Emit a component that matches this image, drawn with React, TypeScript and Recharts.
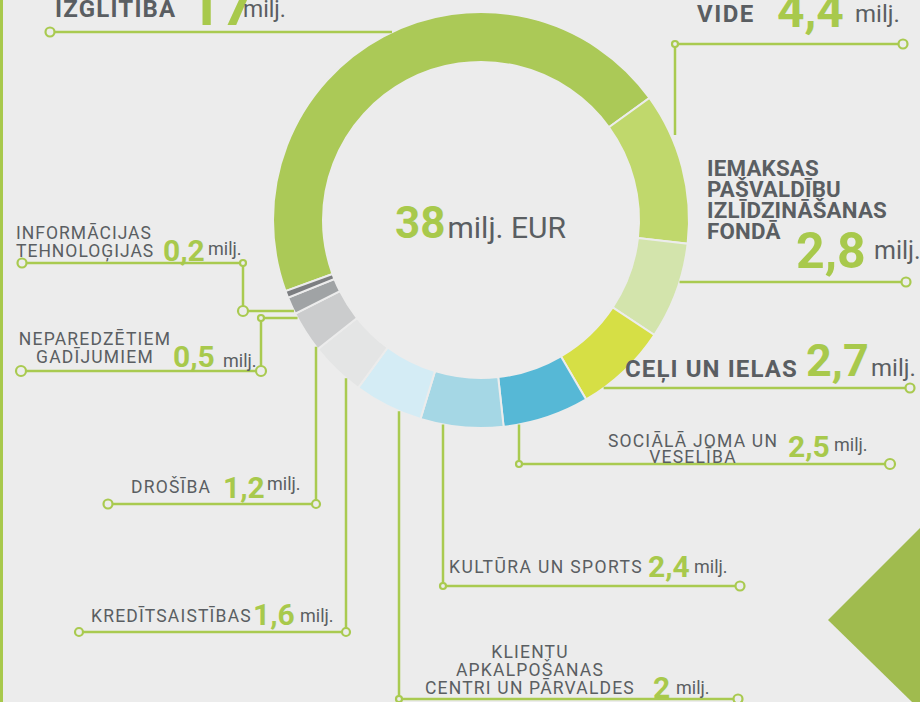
import React from 'react';
import { PieChart, Pie, Cell } from 'recharts';

const CATEGORIES = [
  'IZGLĪTĪBA',
  'VIDE',
  'IEMAKSAS PAŠVALDĪBU IZLĪDZINĀŠANAS FONDĀ',
  'CEĻI UN IELAS',
  'SOCIĀLĀ JOMA UN VESELĪBA',
  'KULTŪRA UN SPORTS',
  'KLIENTU APKALPOŠANAS CENTRI UN PĀRVALDES',
  'KREDĪTSAISTĪBAS',
  'DROŠĪBA',
  'NEPAREDZĒTIEM GADĪJUMIEM',
  'INFORMĀCIJAS TEHNOLOĢIJAS',
];
const VALUES = [17, 4.4, 2.8, 2.7, 2.5, 2.4, 2, 1.6, 1.2, 0.5, 0.2];
const UNIT = 'milj.';
const TOTAL_TEXT = '38';
const TOTAL_UNIT = 'milj. EUR';

const COLORS = [
  '#abc957', '#c0d86c', '#d3e4ac', '#d6df45', '#56b8d6', '#a5d7e5',
  '#d4ecf5', '#e4e5e5', '#cbcccd', '#a0a3a5', '#7c7e81',
];

const BG = '#ececec';
const GREEN = '#a8c94c';
const LINE = '#a9ca50';
const TEXT = '#5a5e62';
const FONT = 'Roboto, "Noto Sans", sans-serif';

// label layout: where each leader line leaves the ring, its bends, and text spots
type Txt = { t: string; x: number; y: number; anchor?: 'start' | 'middle' | 'end' };
type Lay = {
  ring: { axis: 'x' | 'y'; at: number; side: 1 | -1; gap?: number };
  path: [number, number][];
  dots: [number, number][]; // [point index, radius]
  lines: Txt[];
  bold?: boolean;
  size: number;
  ls: number;
  value: { x: number; y: number; size: number };
  unit: { x: number; y: number; size: number };
};

const LAYOUT: Lay[] = [
  {
    ring: { axis: 'y', at: 32, side: -1 }, path: [[50, 32]], dots: [[1, 4.5]],
    lines: [{ t: 'IZGLĪTĪBA', x: 55, y: 17 }], bold: true, size: 24, ls: 1.2,
    value: { x: 188, y: 25, size: 58 }, unit: { x: 243, y: 17, size: 23 },
  },
  {
    ring: { axis: 'x', at: 675, side: -1, gap: 10 }, path: [[675, 44], [903, 44]], dots: [[1, 3], [2, 4.5]],
    lines: [{ t: 'VIDE', x: 697, y: 22 }], bold: true, size: 24, ls: 1.5,
    value: { x: 777, y: 27, size: 48 }, unit: { x: 855, y: 22, size: 24 },
  },
  {
    ring: { axis: 'y', at: 282, side: 1 }, path: [[906, 282]], dots: [[1, 4.5]],
    lines: [
      { t: 'IEMAKSAS', x: 707, y: 176 },
      { t: 'PAŠVALDĪBU', x: 707, y: 197 },
      { t: 'IZLĪDZINĀŠANAS', x: 707, y: 218 },
      { t: 'FONDĀ', x: 707, y: 239 },
    ], bold: true, size: 22.3, ls: 0.2,
    value: { x: 796, y: 268, size: 50 }, unit: { x: 874, y: 259, size: 25 },
  },
  {
    ring: { axis: 'y', at: 388, side: 1 }, path: [[910, 388]], dots: [[1, 4.5]],
    lines: [{ t: 'CEĻI UN IELAS', x: 625, y: 377 }], bold: true, size: 24, ls: 1.1,
    value: { x: 806, y: 376, size: 45 }, unit: { x: 871, y: 376, size: 24 },
  },
  {
    ring: { axis: 'x', at: 519, side: 1 }, path: [[519, 464], [890, 464]], dots: [[1, 3], [2, 5]],
    lines: [
      { t: 'SOCIĀLĀ JOMA UN', x: 693, y: 447, anchor: 'middle' },
      { t: 'VESELĪBA', x: 693, y: 463, anchor: 'middle' },
    ], size: 17.5, ls: 1.2,
    value: { x: 788, y: 457, size: 30 }, unit: { x: 834, y: 451, size: 18 },
  },
  {
    ring: { axis: 'x', at: 443, side: 1 }, path: [[443, 586], [740, 586]], dots: [[1, 3], [2, 4.5]],
    lines: [{ t: 'KULTŪRA UN SPORTS', x: 449, y: 573 }], size: 17.5, ls: 1.4,
    value: { x: 648, y: 577, size: 30 }, unit: { x: 694, y: 573, size: 18 },
  },
  {
    ring: { axis: 'x', at: 399, side: 1 }, path: [[399, 699], [738, 699]], dots: [[1, 3], [2, 4.5]],
    lines: [
      { t: 'KLIENTU', x: 530, y: 658, anchor: 'middle' },
      { t: 'APKALPOŠANAS', x: 530, y: 676, anchor: 'middle' },
      { t: 'CENTRI UN PĀRVALDES', x: 530, y: 694, anchor: 'middle' },
    ], size: 17.5, ls: 1.2,
    value: { x: 653, y: 698, size: 30 }, unit: { x: 676, y: 694, size: 18 },
  },
  {
    ring: { axis: 'x', at: 346, side: 1 }, path: [[346, 632], [79, 632]], dots: [[1, 4], [2, 4]],
    lines: [{ t: 'KREDĪTSAISTĪBAS', x: 91, y: 622 }], size: 17.5, ls: 1.2,
    value: { x: 253, y: 625, size: 30 }, unit: { x: 300, y: 622, size: 18 },
  },
  {
    ring: { axis: 'x', at: 316, side: 1 }, path: [[316, 504], [108, 504]], dots: [[1, 4], [2, 4.5]],
    lines: [{ t: 'DROŠĪBA', x: 131, y: 493 }], size: 17.5, ls: 1.2,
    value: { x: 223, y: 498, size: 30 }, unit: { x: 267, y: 490, size: 18 },
  },
  {
    ring: { axis: 'y', at: 318, side: -1 }, path: [[261, 318], [261, 371], [21, 371]], dots: [[1, 3], [2, 5], [3, 5]],
    lines: [
      { t: 'NEPAREDZĒTIEM', x: 95, y: 345, anchor: 'middle' },
      { t: 'GADĪJUMIEM', x: 95, y: 363, anchor: 'middle' },
    ], size: 17.5, ls: 1.2,
    value: { x: 173, y: 367, size: 30 }, unit: { x: 223, y: 367, size: 18 },
  },
  {
    ring: { axis: 'y', at: 311, side: -1 }, path: [[243, 311], [243, 263], [22, 263]], dots: [[1, 5], [2, 3], [3, 4.5]],
    lines: [
      { t: 'INFORMĀCIJAS', x: 16, y: 239 },
      { t: 'TEHNOLOĢIJAS', x: 16, y: 257 },
    ], size: 17.5, ls: 1.0,
    value: { x: 163, y: 261, size: 30 }, unit: { x: 208, y: 255, size: 18 },
  },
];

const data = CATEGORIES.map((name, i) => ({ name, value: VALUES[i] }));

// point where a horizontal / vertical leader meets the outer edge of the ring
const ringPoint = (cx: number, cy: number, r: number, ring: Lay['ring']): [number, number] => {
  const gap = ring.gap || 0;
  if (ring.axis === 'y') {
    const dx = Math.sqrt(Math.max(0, r * r - (ring.at - cy) ** 2));
    return [cx + ring.side * (dx + gap), ring.at];
  }
  const dy = Math.sqrt(Math.max(0, r * r - (ring.at - cx) ** 2));
  return [ring.at, cy + ring.side * (dy + gap)];
};

const renderLabel = (props: any) => {
  const { cx, cy, outerRadius, index } = props;
  const lay = LAYOUT[index];
  if (!lay) return null;
  const pts = [ringPoint(cx, cy, outerRadius, lay.ring), ...lay.path];
  return (
    <g key={`lbl-${index}`} fontFamily={FONT}>
      <polyline
        points={pts.map((p) => p.join(',')).join(' ')}
        fill="none"
        stroke={LINE}
        strokeWidth={2.5}
      />
      {lay.dots.map(([i, r]) => (
        <circle key={i} cx={pts[i][0]} cy={pts[i][1]} r={r} fill={BG} stroke={LINE} strokeWidth={2.2} />
      ))}
      {lay.lines.map((l, k) => (
        <text
          key={k}
          x={l.x}
          y={l.y}
          textAnchor={l.anchor || 'start'}
          fontSize={lay.size}
          fontWeight={lay.bold ? 700 : 400}
          letterSpacing={lay.ls}
          fill={TEXT}
        >
          {l.t}
        </text>
      ))}
      <text x={lay.value.x} y={lay.value.y} fontSize={lay.value.size} fontWeight={700} fill={GREEN}>
        {String(VALUES[index]).replace('.', ',')}
      </text>
      <text x={lay.unit.x} y={lay.unit.y} fontSize={lay.unit.size} fill={TEXT}>
        {UNIT}
      </text>
    </g>
  );
};

export default function App() {
  return (
    <div
      style={{
        position: 'absolute',
        left: 0,
        top: 0,
        width: 920,
        height: 702,
        overflow: 'hidden',
        background: BG,
        fontFamily: FONT,
      }}
    >
      <PieChart width={920} height={702} margin={{ top: 0, right: 0, bottom: 0, left: 0 }}>
        <rect x={0} y={0} width={3} height={702} fill={GREEN} />
        <polygon points="920,528 828,620 912,702 920,702" fill="#a0bb4e" />
        <Pie
          data={data}
          dataKey="value"
          nameKey="name"
          cx={481}
          cy={220}
          innerRadius={158}
          outerRadius={208}
          startAngle={200}
          endAngle={-160}
          labelLine={false}
          label={renderLabel}
          isAnimationActive={false}
        >
          {data.map((d, i) => (
            <Cell key={d.name} fill={COLORS[i]} stroke={BG} strokeWidth={2} />
          ))}
        </Pie>
        <text x={395} y={238} fontFamily={FONT}>
          <tspan fontSize={44} fontWeight={700} fill={GREEN}>{TOTAL_TEXT}</tspan>
          <tspan fontSize={30} fill={TEXT} dx={2}>{TOTAL_UNIT}</tspan>
        </text>
      </PieChart>
    </div>
  );
}
